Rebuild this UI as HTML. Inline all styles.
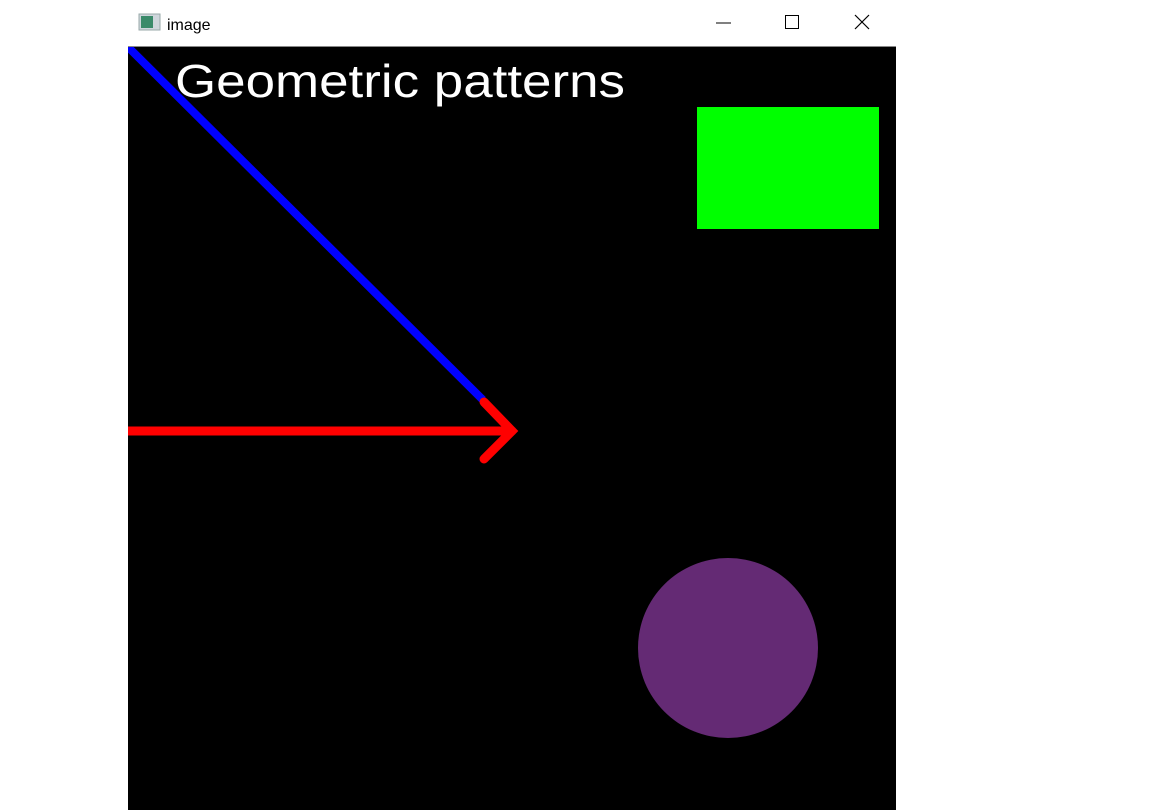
<!DOCTYPE html>
<html><head><style>
html,body{margin:0;padding:0;background:#fff;width:1152px;height:810px;overflow:hidden;font-family:"Liberation Sans",sans-serif}
</style></head><body>
<svg width="1152" height="810">
<defs><clipPath id="cv"><rect x="128" y="47" width="768" height="763"/></clipPath></defs>
<rect x="0" y="0" width="1152" height="810" fill="#fff"/>
<g>
<rect x="139" y="14" width="21" height="16" fill="#cfd6dc" stroke="#9aa"/>
<rect x="141" y="16" width="12" height="12" fill="#3a8a6a"/>
<text x="167" y="30" font-size="16" fill="#000">image</text>
<line x1="716" y1="23" x2="731" y2="23" stroke="#000" stroke-width="1"/>
<rect x="785.5" y="15.5" width="13" height="13" fill="none" stroke="#000"/>
<g stroke="#000" stroke-width="1.2"><line x1="855" y1="15" x2="869" y2="29"/><line x1="869" y1="15" x2="855" y2="29"/></g>
</g>
<line x1="128" y1="46.5" x2="896" y2="46.5" stroke="#888" stroke-width="1"/>
<rect x="128" y="47" width="768" height="763" fill="#000"/>
<g clip-path="url(#cv)">
<line x1="120" y1="39" x2="483" y2="400" stroke="#0000ff" stroke-width="8"/>
<g stroke="#ff0000" stroke-width="9" stroke-linecap="round" fill="none">
<line x1="110" y1="431" x2="512" y2="431"/>
<polyline points="484,402 512,431 484,459"/>
</g>
</g>
<rect x="697" y="107" width="182" height="122" fill="#00ff00"/>
<circle cx="728" cy="648" r="90" fill="#642a74"/>
<text x="175" y="97" font-size="46" fill="#fff" textLength="450" lengthAdjust="spacingAndGlyphs">Geometric  patterns</text>
</svg>
</body></html>
